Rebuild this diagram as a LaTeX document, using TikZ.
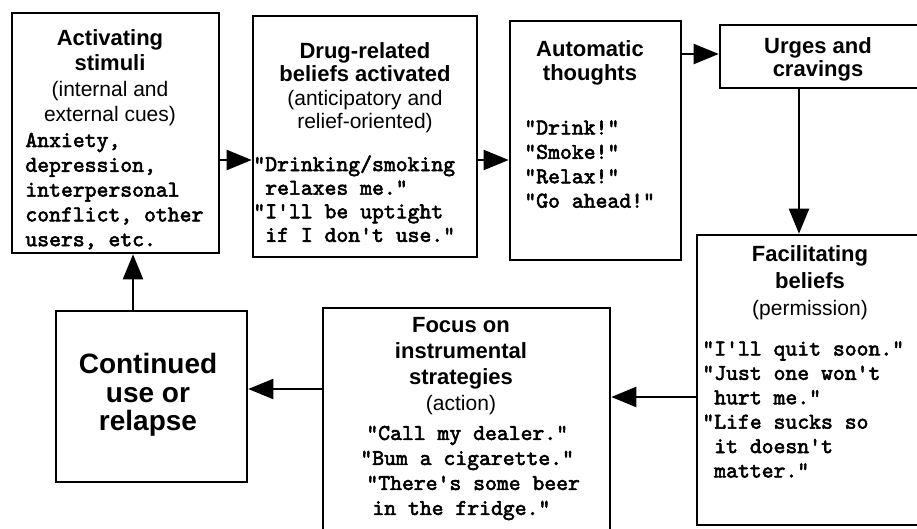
\documentclass[tikz,border=0pt]{standalone}
\usepackage{fontspec}
\setmainfont{Liberation Sans}
\setmonofont{lmmono10-regular}[Extension=.otf,FakeBold=2.5]
\usetikzlibrary{arrows.meta}
\newcommand{\subline}[1]{{\fontsize{10.5}{12.7}\selectfont #1}}
\begin{document}
\begin{tikzpicture}[x=0.5pt,y=-0.5pt,
		box/.style={draw,line width=1.3pt,inner sep=0pt},
		arr/.style={line width=1.1pt,-{Triangle[length=12.5pt,width=10pt]}},
		head/.style={anchor=north,inner sep=0pt,align=center,font=\fontsize{11}{12.7}\selectfont},
		said/.style={anchor=north west,inner sep=0pt,align=left,font=\ttfamily\fontsize{11.3}{12.5}\selectfont}]
		\clip (0,0) rectangle (917,529);
		\fill[white] (0,0) rectangle (917,529);
		% Các ô
		\node[box,minimum width=103.5pt,minimum height=120pt] (stim) at (115.5,133) {};
		\node[box,minimum width=112pt,minimum height=120.5pt] (drug) at (365,136.5) {};
		\node[box,minimum width=85.5pt,minimum height=119.5pt] (auto) at (595.5,140.5) {};
		\node[box,minimum width=101pt,minimum height=31.5pt] (urge) at (821,56.5) {};
		\node[box,minimum width=113pt,minimum height=145pt] (facil) at (810,380) {};
		\node[box,minimum width=143.5pt,minimum height=118.5pt] (focus) at (466.5,426.5) {};
		\node[box,minimum width=95.5pt,minimum height=85.5pt] (cont) at (151.5,396.5) {};
		% Chữ trong các ô
		\node[head] (stimhead) at (110,29) {\textbf{Activating}\\\textbf{stimuli}\\\subline{(internal and}\\\subline{external cues)}};
		\node[said,font=\ttfamily\fontsize{11.3}{12.4}\selectfont] (stimsaid) at (25,132.5) {Anxiety,\\depression,\\interpersonal\\conflict, other\\users, etc.};
		\node[head,font=\fontsize{11}{11.7}\selectfont] (drughead) at (365,42) {\textbf{Drug-related}\\\textbf{beliefs activated}\\\subline{(anticipatory and}\\\subline{relief-oriented)}};
		\node[said,font=\ttfamily\fontsize{11.3}{11.8}\selectfont] (drugsaid) at (253,155) {"Drinking/smoking\\~relaxes me."\\"I'll be uptight\\~if I don't use."};
		\node[head,font=\fontsize{11}{12}\selectfont] (autohead) at (590,40) {\textbf{Automatic}\\\textbf{thoughts}};
		\node[said,font=\ttfamily\fontsize{11.3}{12.2}\selectfont] (autosaid) at (524,120) {"Drink!"\\"Smoke!"\\"Relax!"\\"Go ahead!"};
		\node[head,font=\fontsize{11}{11.5}\selectfont] (urgehead) at (818,37) {\textbf{Urges and}\\\textbf{cravings}};
		\node[head,font=\fontsize{11}{13.5}\selectfont] (facilhead) at (810,245) {\textbf{Facilitating}\\\textbf{beliefs}\\\subline{(permission)}};
		\node[said,font=\ttfamily\fontsize{11.3}{12.2}\selectfont] (facilsaid) at (702,341) {"I'll quit soon."\\"Just one won't\\~hurt me."\\"Life sucks so\\~it doesn't\\~matter."};
		\node[head,font=\fontsize{11}{13}\selectfont] (focushead) at (461,317) {\textbf{Focus on}\\\textbf{instrumental}\\\textbf{strategies}\\\subline{(action)}};
		\node[said] (focussaid) at (360,425.5) {\hspace*{3pt}"Call my dealer."\\"Bum a cigarette."\\\hspace*{3pt}"There's some beer\\\hspace*{6pt}in the fridge."};
		\node[head,font=\bfseries\fontsize{14}{14.25}\selectfont] (conthead) at (148,353) {Continued\\use or\\relapse};
		% Mũi tên
		\draw[arr] ([yshift=-13.5pt]stim.east) -- ([yshift=-13.5pt]stim.east -| drug.west);
		\draw[arr] ([yshift=-11.75pt]drug.east) -- ([yshift=-11.75pt]drug.east -| auto.west);
		\draw[arr] ([yshift=1.25pt]urge.west -| auto.east) -- ([yshift=1.25pt]urge.west);
		\draw[arr] ([xshift=-11pt]urge.south) -- ([xshift=-11pt]urge.south |- facil.north);
		\draw[arr] ([yshift=-8.5pt]facil.west) -- ([yshift=-8.5pt]facil.west -| focus.east);
		\draw[arr] ([yshift=3.75pt]cont.east -| focus.west) -- ([yshift=3.75pt]cont.east);
		\draw[arr] ([xshift=-9.25pt]cont.north) -- ([xshift=-9.25pt]cont.north |- stim.south);
\end{tikzpicture}
\end{document}
